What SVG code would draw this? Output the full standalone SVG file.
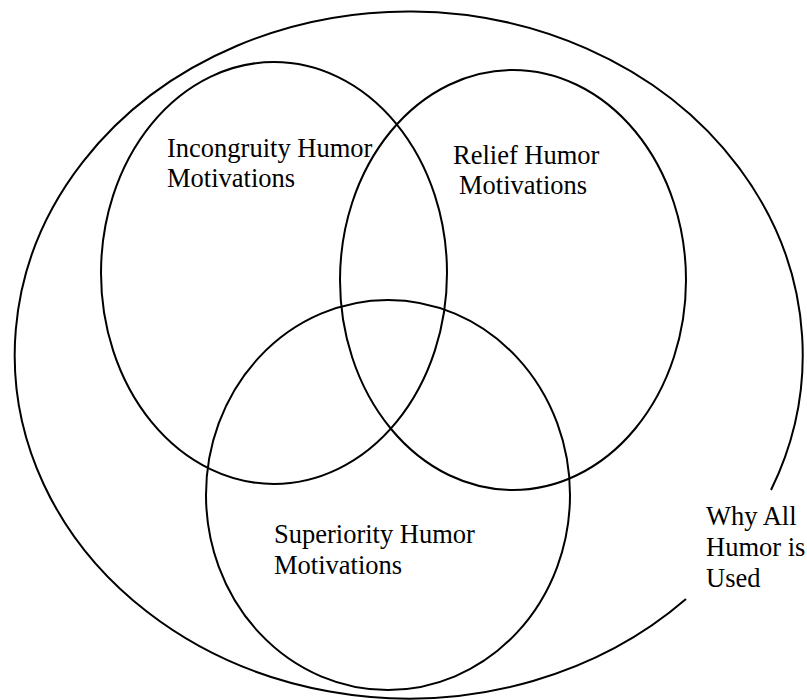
<svg xmlns="http://www.w3.org/2000/svg" width="807" height="700" viewBox="0 0 807 700">
<style>
.shape{fill:none;stroke:#000;stroke-width:2}
.lbl{font-family:"Liberation Serif","Times New Roman",serif;font-size:26.5px;fill:#000}
</style>
<rect width="807" height="700" fill="#fff"/>
<g id="outer">
<path class="shape" d="M 771,490 A 394 343.5 0 1 0 686,599"/>
<text class="lbl" x="706" y="525">Why All</text>
<text class="lbl" x="706" y="556">Humor is</text>
<text class="lbl" x="706" y="587">Used</text>
</g>
<g id="incongruity">
<ellipse class="shape" cx="274" cy="273" rx="173" ry="211"/>
<text class="lbl" x="167" y="157">Incongruity Humor</text>
<text class="lbl" x="167" y="187">Motivations</text>
</g>
<g id="relief">
<ellipse class="shape" cx="513" cy="280" rx="173" ry="210"/>
<text class="lbl" x="453" y="164">Relief Humor</text>
<text class="lbl" x="459" y="194">Motivations</text>
</g>
<g id="superiority">
<ellipse class="shape" cx="388" cy="495" rx="182" ry="195"/>
<text class="lbl" x="274" y="543">Superiority Humor</text>
<text class="lbl" x="274" y="574">Motivations</text>
</g>
<g id="connectors"></g>
</svg>
